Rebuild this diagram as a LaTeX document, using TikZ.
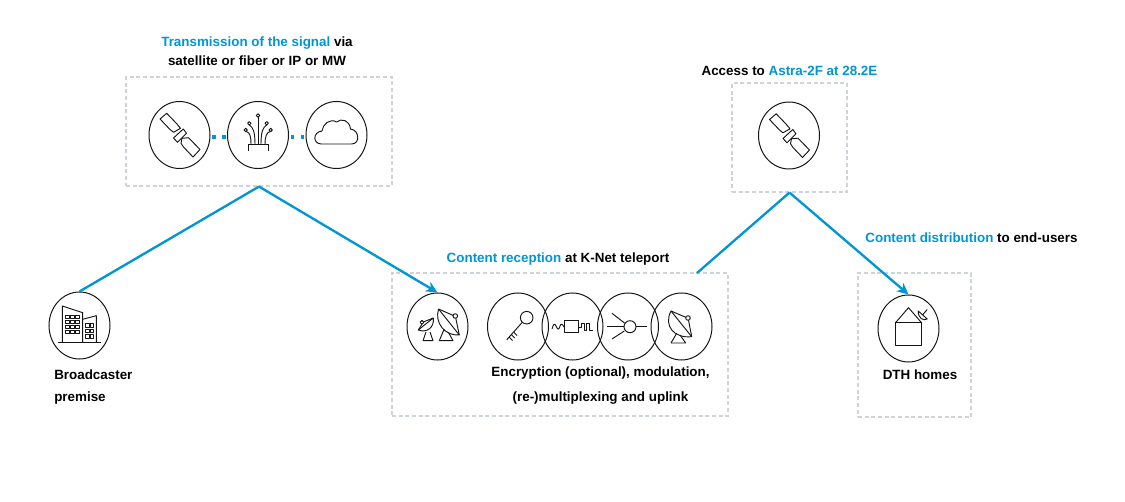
\documentclass[tikz,border=0pt]{standalone}
\usepackage{fontspec}
\setmainfont{Liberation Sans}
\usetikzlibrary{shapes.geometric,arrows.meta}
\definecolor{kblue}{RGB}{0,150,214}
\definecolor{kgray}{RGB}{206,211,215}
\definecolor{kink}{RGB}{20,20,20}
\tikzset{
  dbox/.style={draw=kgray,line width=0.85pt,dash pattern=on 3pt off 2pt,minimum width=#1,inner sep=0pt},
  disc/.style={draw=kink,ellipse,line width=0.75pt,minimum width=45.75pt,minimum height=50.25pt,inner sep=0pt},
  conn/.style={draw=kblue,line width=1.75pt,line join=miter},
  arrowconn/.style={conn,-{Stealth[length=8.5pt,width=8pt,inset=2.5pt]}},
  dotlink/.style={fill=kblue,draw=none,minimum size=2.5pt,inner sep=0pt,rectangle},
  lab/.style={font=\fontsize{10.05pt}{12pt}\selectfont\bfseries,text=black,inner sep=0pt},
  ic/.style={draw=kink,line width=0.7pt,line join=round},
  pics/satellite/.style={code={
    \draw[ic] (-19.5,-16) -- (-12.8,-21.7) -- (-3,-11.5) -- (1,-6.7) -- (-6,-2.7) -- (-9.5,-5.5) -- cycle;
    \draw[ic] (-6,3) -- (3.8,-6) -- (7,-1.7) -- (-2,7.3) -- cycle;
    \draw[ic] (1.5,8.3) -- (2.5,3.3) -- (9,2.7) -- (20.5,14.5) -- (13.5,22) -- (4,12) -- cycle;
  }},
  pics/fiber/.style={code={
    \draw[ic] (-10,16) -- (-10,9) -- (10.5,9) -- (10.5,16);
    \draw[ic] (0,-19.5) circle[radius=1.7];
    \draw[ic] (-8.7,-11.7) circle[radius=1.7];
    \draw[ic] (8.7,-11.7) circle[radius=1.7];
    \draw[ic] (-12.3,-5) circle[radius=1.7];
    \draw[ic] (12.7,-5) circle[radius=1.7];
    \draw[ic] (0,-17.8) -- (0,9);
    \draw[ic] (-8.7,-10) .. controls (-5,-8) and (-3,-3) .. (-3,9);
    \draw[ic] (8.7,-10) .. controls (5,-8) and (3,-3) .. (3,9);
    \draw[ic] (-11.6,-3.5) .. controls (-8,-2.5) and (-7,2) .. (-7,9);
    \draw[ic] (12,-3.5) .. controls (8.5,-2.5) and (7,2) .. (7,9);
  }},
  pics/cloud/.style={code={
    \draw[ic] (-15,9) .. controls (-24,9) and (-24,-3) .. (-14.5,-4)
      .. controls (-14,-11) and (-6,-17) .. (0,-13)
      .. controls (5,-17) and (13,-15) .. (14,-6)
      .. controls (23,-5) and (24,9) .. (15,9) -- cycle;
  }},
  pics/building/.style={code={
    \draw[ic] (-20.7,17.3) -- (21.7,17.3);
    \draw[ic] (-16.7,17.3) -- (-16.7,-19) -- (3.7,-12.3) -- (3.7,17.3);
    \draw[ic] (3.7,-5.7) -- (17.3,-9.3) -- (17.3,17.3);
    \foreach \wy in {-9.5,-4.5,0.5,5.5} \foreach \wx in {-13.3,-8.3,-3.3}
      \draw[ic,line width=0.45pt] (\wx,\wy) rectangle ++(3.6,3.2);
    \foreach \wy in {-1.5,4,9.5} \foreach \wx in {6.5,11.2}
      \draw[ic,line width=0.45pt] (\wx,\wy) rectangle ++(3.4,3.4);
  }},
  pics/key/.style={code={
    \draw[ic] (8.7,-8.3) circle[radius=6.3];
    \draw[ic] (4.3,-3.7) -- (-11.3,13.8);
    \draw[ic] (-4.5,6) -- (-1,9.5);
    \draw[ic] (-6.8,8.5) -- (-3.3,12);
    \draw[ic] (-9,11) -- (-5.5,14.5);
  }},
  pics/modulator/.style={code={
    \draw[ic] (-8,-5.3) rectangle (6.3,6.3);
    \draw[ic] (-20,3) .. controls (-18.5,-3) and (-17,-3) .. (-15.5,1)
      .. controls (-14,4) and (-13,4) .. (-12,0)
      .. controls (-11,-3) and (-9.5,-2) .. (-8,1);
    \draw[ic] (6.3,1) -- (9,1) -- (9,-3) -- (12,-3) -- (12,4) -- (14.5,4) -- (14.5,-3) -- (17.5,-3) -- (17.5,4) -- (21,4);
  }},
  pics/mux/.style={code={
    \draw[ic] (2,0.7) circle[radius=6];
    \draw[ic] (-20.7,0.7) -- (-4,0.7);
    \draw[ic] (-16,-12.7) -- (-3.5,-3);
    \draw[ic] (-16,13) -- (-3.7,5);
    \draw[ic] (8,0.7) -- (19.3,0.7);
  }},
  pics/dish/.style={code={
    \draw[ic] (-10,-15) -- (10.7,10.7) .. controls (-7.3,12.5) and (-17.6,-0.4) .. (-10,-15);
    \draw[ic] (7,-8) circle[radius=2.3];
    \draw[ic] (-10,-15) -- (5,-8.6);
    \draw[ic] (10.7,10.7) -- (7.5,-5.7);
    \draw[ic] (-10,17) -- (4.7,17) -- (-1,9);
    \draw[ic] (-10,17) -- (-4.3,7.3);
  }},
  pics/twindish/.style={code={
    \draw[ic] (1.5,-17) -- (22.3,9) .. controls (7.8,10) and (-2.6,-3) .. (1.5,-17);
    \draw[ic] (18.3,-10) circle[radius=2.3];
    \draw[ic] (1.5,-17) -- (16.1,-10.6);
    \draw[ic] (22.3,9) -- (18.8,-7.7);
    \draw[ic] (2.3,14.7) -- (16,14.7) -- (11.5,6.5);
    \draw[ic] (2.3,14.7) -- (7,3.5);
    \draw[ic] (-3.7,-8) -- (-18.7,4) .. controls (-10,7.3) and (-2.5,1.3) .. (-3.7,-8);
    \draw[ic] (-15,-3.7) circle[radius=1.9];
    \draw[ic] (-3.7,-8) -- (-13.2,-4.2);
    \draw[ic] (-18.7,4) -- (-15,-1.8);
    \draw[ic] (-14,14.7) -- (-4,14.7) -- (-7,6);
    \draw[ic] (-14,14.7) -- (-11,6);
  }},
  pics/house/.style={code={
    \draw[ic] (-13,-5.3) rectangle (13,17.3);
    \draw[ic] (-13,-5.3) -- (0,-20.3) -- (13,-5.3);
    \draw[ic] (9.7,-17) .. controls (9.5,-10) and (15,-6.5) .. (18.7,-9) -- cycle;
    \draw[ic] (14,-13) -- (18.7,-18.5);
  }},
}
\begin{document}
\begin{tikzpicture}[x=0.75pt,y=-0.75pt]
\useasboundingbox (0,0) rectangle (1125,502);

% dashed frames
\node[dbox=199.5pt,minimum height=81.75pt] (txbox) at (259,131.5) {};
\node[dbox=252pt,minimum height=107.25pt] (rxbox) at (560,344.5) {};
\node[dbox=86.25pt,minimum height=81.75pt] (astrabox) at (789.5,137.5) {};
\node[dbox=84.75pt,minimum height=108pt] (dthbox) at (914.5,345) {};

% discs
\node[disc] (bcast) at (79.5,325.5) {};
\node[disc] (satA) at (179.5,135) {};
\node[disc] (fib) at (258,135) {};
\node[disc] (cld) at (336.5,135) {};
\node[disc] (rx) at (437.5,326.5) {};
\node[disc] (keyd) at (518,326.5) {};
\node[disc] (modd) at (572.5,326.5) {};
\node[disc] (muxd) at (628,326.5) {};
\node[disc] (upl) at (681.5,326.5) {};
\node[disc] (satB) at (789,135.5) {};
\node[disc] (dth) at (908.5,328.5) {};

% icons
\pic at (79,325) {building};
\pic at (179.5,135) {satellite};
\pic at (258,135) {fiber};
\pic at (336.5,135) {cloud};
\pic at (437,326) {twindish};
\pic at (518,326) {key};
\pic at (572,326) {modulator};
\pic at (628,326) {mux};
\pic at (681,326) {dish};
\pic at (789,135.5) {satellite};
\pic at (908.5,328) {house};

% dotted links
\node[dotlink] (d1) at (214,137) {};
\node[dotlink] (d2) at (224,137) {};
\node[dotlink] (d3) at (292.7,137) {};
\node[dotlink] (d4) at (302.7,137) {};

% connectors
\coordinate (rxout) at (697,273);
\draw[conn] (bcast.north) -- (txbox.south);
\draw[arrowconn] (txbox.south) -- (rx.north);
\draw[conn] (rxout) -- (astrabox.south);
\draw[arrowconn] (astrabox.south) -- (dth.north);

% labels
\node[lab] (t1) at (257,43) {\textcolor{kblue}{Transmission of the signal} via};
\node[lab] (t2) at (257,61) {satellite or fiber or IP or MW};
\node[lab] (t3) at (789.5,70.5) {Access to \textcolor{kblue}{Astra-2F at 28.2E}};
\node[lab] (t4) at (558,259.5) {\textcolor{kblue}{Content reception} at K-Net teleport};
\node[lab] (t5) at (971.5,237.5) {\textcolor{kblue}{Content distribution} to end-users};
\node[lab,anchor=west] (t6) at (54,374.5) {Broadcaster};
\node[lab,anchor=west] (t7) at (54,398.5) {premise};
\node[lab] (t8) at (920,374.5) {DTH homes};
\node[lab] (t9) at (600.5,373.5) {Encryption (optional), modulation,};
\node[lab] (t10) at (600.5,398.5) {(re-)multiplexing and uplink};
\end{tikzpicture}
\end{document}
